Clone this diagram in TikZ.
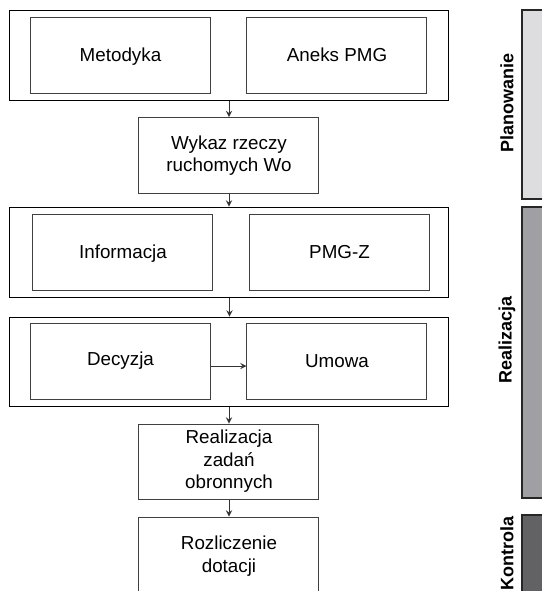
\documentclass[tikz,border=0pt]{standalone}
\usepackage{fontspec}
\setmainfont{Liberation Sans}
\usetikzlibrary{shapes,positioning,arrows,calc}

\definecolor{planfill}{RGB}{221,221,223}
\definecolor{realfill}{RGB}{160,160,164}
\definecolor{kontrfill}{RGB}{98,98,100}

\begin{document}
\begin{tikzpicture}[x=0.5pt,y=-0.5pt,
    frame/.style={draw=black,line width=0.5pt,minimum width=219.5pt,minimum height=45pt,inner sep=0pt},
    box/.style={draw=black!75,line width=0.5pt,minimum width=90pt,minimum height=38pt,align=center,inner sep=0pt,font=\fontsize{9.4}{11.2}\selectfont},
    bar/.style={draw=black!85,line width=0.6pt,minimum width=15pt,inner sep=0pt},
    phase/.style={rotate=90,font=\fontsize{9}{11}\selectfont\bfseries},
    flow/.style={->,>=stealth,line width=0.4pt,draw=black!80}]
\useasboundingbox (0,0) rectangle (542,591);

            \node[frame] (ramka1) at (229.5,55) {};
            \node[box,text depth=0pt] (metodyka) at (120.5,55) {Metodyka};
            \node[box] (aneks) at (337,55) {Aneks PMG};
            \node[box] (wykaz) at (229,155.5) {Wykaz rzeczy\\ruchomych Wo};
            \node[frame] (ramka2) at (229.5,252) {};
            \node[box,text depth=0pt] (informacja) at (123,252) {Informacja};
            \node[box] (pmgz) at (339.5,252) {PMG-Z};
            \node[frame,minimum height=44.5pt] (ramka3) at (229.5,361.5) {};
            \node[box] (decyzja) at (120.5,361) {Decyzja};
            \node[box] (umowa) at (337,361) {Umowa};
            \node[box,minimum height=37.5pt] (realizacja) at (229,461.5) {Realizacja\\zada\'n\\obronnych};
            \node[box,minimum height=39pt] (rozliczenie) at (229,556) {Rozliczenie\\dotacji};

            \draw[flow] (wykaz.north |- ramka1.south) -- (wykaz.north);
            \draw[flow] (wykaz.south) -- (wykaz.south |- ramka2.north);
            \draw[flow] (ramka2.south) -- (ramka3.north);
            \draw[flow] ([yshift=-2.5pt]decyzja.east) -- ([yshift=-2.5pt]umowa.west);
            \draw[flow] (realizacja.north |- ramka3.south) -- (realizacja.north);
            \draw[flow] (realizacja.south) -- (rozliczenie.north);

            \node[bar,fill=planfill,minimum height=94.5pt] (pasek1) at (537,104.5) {};
            \node[bar,fill=realfill,minimum height=145.5pt] (pasek2) at (537,352.5) {};
            \node[bar,fill=kontrfill,minimum height=42.5pt] (pasek3) at (537,557.5) {};
            \node[phase] (planowanie) at (507,103) {Planowanie};
            \node[phase] (realizacjaf) at (507,340) {Realizacja};
            \node[phase] (kontrola) at (507,553) {Kontrola};
\end{tikzpicture}
\end{document}
